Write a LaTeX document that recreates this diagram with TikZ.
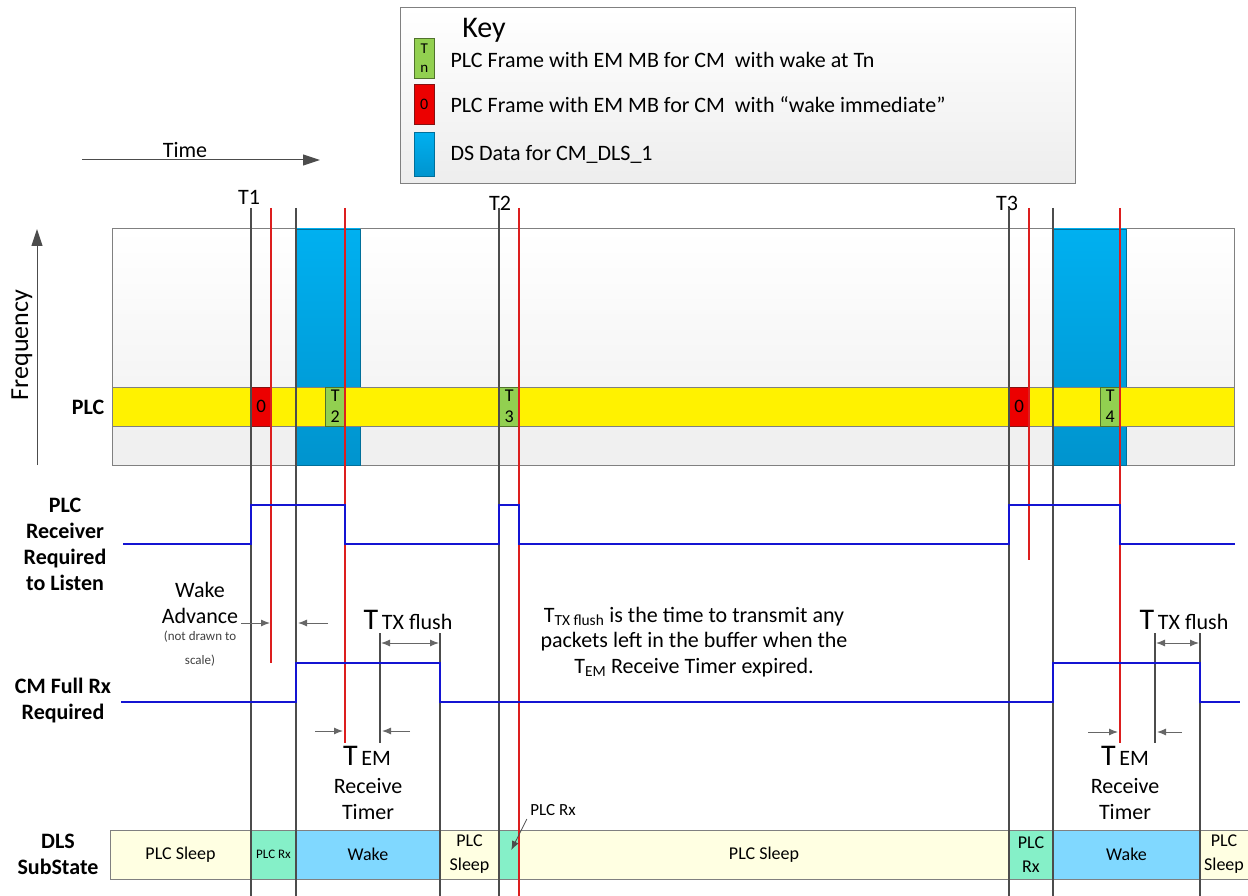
\documentclass[tikz,border=0pt]{standalone}
\usepackage{fontspec}
\setmainfont{Carlito}
\usetikzlibrary{arrows.meta,positioning,calc}
\definecolor{tdbox}{RGB}{128,128,128}
\definecolor{tdred}{RGB}{220,30,30}
\definecolor{tdframe}{RGB}{236,0,0}
\definecolor{tdsig}{RGB}{20,20,210}
\definecolor{tdgreen}{RGB}{146,208,80}
\definecolor{tdcyan}{RGB}{0,176,240}
\definecolor{tdcyandk}{RGB}{0,148,206}
\definecolor{tdsleep}{RGB}{255,255,226}
\definecolor{tdrx}{RGB}{133,240,200}
\definecolor{tdwake}{RGB}{128,216,255}
\tikzset{
  keybox/.style={draw=tdbox, top color=white, bottom color=black!7, line width=1pt},
  keytext/.style={font=\fontsize{22}{26}\selectfont, inner sep=0pt, anchor=west},
  frameimm/.style={draw=tdred!60!black, fill=tdframe, inner sep=0pt, anchor=north west,
                   minimum width=20pt, minimum height=39pt, font=\fontsize{19}{19}\selectfont},
  framewake/.style={draw=tdgreen!55!black, fill=tdgreen, inner sep=0pt, anchor=north west,
                    minimum width=20pt, minimum height=39pt, align=center, font=\fontsize{18}{21}\selectfont},
  dsdata/.style={draw=tdcyandk!75!black, top color=tdcyan, bottom color=tdcyandk},
  marker/.style={draw=black!70, line width=1.5pt},
  expiry/.style={draw=tdred, line width=1.3pt},
  signal/.style={draw=tdsig, line width=2.2pt},
  dimarrow/.style={draw=black!60, line width=1pt, -{Latex[length=9pt,width=7pt]}},
  axisarrow/.style={draw=black!70, line width=1pt, -{Triangle[length=17pt,width=11pt]}},
  rowlabel/.style={font=\fontsize{22}{26}\selectfont\bfseries, align=center},
  note/.style={font=\fontsize{22}{25.5}\selectfont, align=center},
  statebox/.style={draw=tdbox, line width=1pt},
  statetext/.style={font=\fontsize{18}{24}\selectfont, align=center, inner sep=0pt},
  tmark/.style={font=\fontsize{22}{22}\selectfont},
}
% one box of the DLS substate bar: x1, x2, fill, name, text
\newcommand{\substate}[5]{%
  \filldraw[statebox, fill=#3] (#1,830) rectangle (#2,879);
  \node[statetext] (#4) at ({(#1+#2)/2},854.5) {#5};}
\newcommand{\bigT}{{\fontsize{30}{30}\selectfont T}}

\begin{document}
\begin{tikzpicture}[x=1pt, y=-1pt]
\useasboundingbox (0,0) rectangle (1248,896);

% Key
\shade[keybox] (400,8) rectangle (1075,184);
\draw[draw=tdbox, line width=1pt] (400,8) rectangle (1075,184);
\node[font=\fontsize{30}{30}\selectfont] (keytitle) at (484,30) {Key};
\node[framewake, minimum height=40pt, font=\fontsize{15}{19}\selectfont] (keywake) at (414,38) {T\\n};
\node[frameimm, minimum height=40pt, font=\fontsize{16}{16}\selectfont] (keyimm) at (414,84) {0};
\node[dsdata, anchor=north west, minimum width=20pt, minimum height=44pt, inner sep=0pt] (keyds) at (414,132) {};
\node[keytext, right=16pt of keywake, yshift=-2pt] (keywaketxt) {PLC Frame with EM MB for CM\ \ with wake at Tn};
\node[keytext, right=16pt of keyimm] (keyimmtxt) {PLC Frame with EM MB for CM\ \ with “wake immediate”};
\node[keytext, right=16pt of keyds] (keydstxt) {DS Data for CM\_DLS\_1};

% Axes
\draw[axisarrow] (82,160) -- (320,160);
\node[font=\fontsize{22}{22}\selectfont] (time) at (185,150) {Time};
\draw[axisarrow] (37,465) -- (37,229);
\node[font=\fontsize{26}{26}\selectfont, rotate=90] (freq) at (22,345) {Frequency};

% Spectrum
\shade[top color=white, bottom color=black!5] (112,229) rectangle (1234,426);
\fill[black!6] (112,426) rectangle (1234,465);
\draw[draw=tdbox, line width=1pt] (112,229) rectangle (1234,465);
\shade[dsdata] (296,229) rectangle (360,465);
\shade[dsdata] (1053,229) rectangle (1126,465);
\draw[draw=tdcyandk!75!black] (296,229) rectangle (360,465);
\draw[draw=tdcyandk!75!black] (1053,229) rectangle (1126,465);
\filldraw[fill=yellow, draw=tdbox, line width=1pt] (112,387) rectangle (1234,426);
\node[rowlabel] (plc) at (88,407) {PLC};
\node[frameimm] (imm1) at (251,387) {0};
\node[framewake] (wake2) at (325,387) {T\\2};
\node[framewake] (wake3) at (499,387) {T\\3};
\node[frameimm] (imm2) at (1009,387) {0};
\node[framewake] (wake4) at (1100,387) {T\\4};

% DLS substate bar
\substate{110}{251}{tdsleep}{s1}{PLC Sleep}
\substate{251}{296}{tdrx}{s2}{\fontsize{13}{15}\selectfont PLC Rx}
\substate{296}{440}{tdwake}{s3}{Wake}
\substate{440}{499}{tdsleep}{s4}{PLC\\Sleep}
\substate{499}{519}{tdrx}{s5}{}
\substate{519}{1009}{tdsleep}{s6}{PLC Sleep}
\substate{1009}{1053}{tdrx}{s7}{PLC\\Rx}
\substate{1053}{1200}{tdwake}{s8}{Wake}
\substate{1200}{1248}{tdsleep}{s9}{PLC\\Sleep}

% Time markers
\node[tmark] (t1) at (249,197) {T1};
\node[tmark] (t2) at (500,203) {T2};
\node[tmark] (t3) at (1007,203) {T3};
\foreach \x/\ya/\yb in {251/208/896, 296/208/896, 499/208/896, 1009/208/896, 1053/208/896,
                        440/633/896, 1200/633/896, 380/633/743, 1155/633/743}
  \draw[marker] (\x,\ya) -- (\x,\yb);
\foreach \x/\yb in {271/663, 345/743, 519/896, 1029/560, 1120/743}
  \draw[expiry] (\x,208) -- (\x,\yb);

% Signals
\node[rowlabel] (plcrx) at (65,544) {PLC\\Receiver\\Required\\to Listen};
\draw[signal] (123,544) -| (251,505) -| (345,544) -| (499,505) -| (519,544)
  -| (1009,505) -| (1120,544) -- (1235,544);
\node[rowlabel] (cmrx) at (63,701) {CM Full Rx\\Required};
\draw[signal] (121,702) -| (296,663) -| (440,702) -| (1053,663) -| (1200,702) -- (1240,702);
\node[rowlabel] (dls) at (58,854) {DLS\\SubState};

% Wake advance
\node[note] (wakeadv) at (200,603) {Wake\\Advance};
\node[font=\fontsize{13}{24}\selectfont, align=center, text=black!75] (notscale) at (200,649) {(not drawn to\\scale)};
\draw[dimarrow] (241,623) -- (270,623);
\draw[dimarrow] (328,623) -- (298,623);

% Flush and receive timer, first wake
\node[anchor=base, font=\fontsize{22}{22}\selectfont] (flush1) at (408,629) {\bigT\,TX flush};
\draw[dimarrow, {Latex[length=9pt,width=7pt]}-{Latex[length=9pt,width=7pt]}] (381,643) -- (439,643);
\draw[dimarrow] (315,731) -- (343,731);
\draw[dimarrow] (410,731) -- (382,731);
\node[anchor=base, font=\fontsize{22}{22}\selectfont] (tem1) at (367,765) {\bigT\,EM};
\node[note] (timer1) at (368,799) {Receive\\Timer};

% Flush and receive timer, second wake
\node[anchor=base, font=\fontsize{22}{22}\selectfont] (flush2) at (1184,629) {\bigT\,TX flush};
\draw[dimarrow, {Latex[length=9pt,width=7pt]}-{Latex[length=9pt,width=7pt]}] (1156,643) -- (1199,643);
\draw[dimarrow] (1088,732) -- (1118,732);
\draw[dimarrow] (1182,732) -- (1157,732);
\node[anchor=base, font=\fontsize{22}{22}\selectfont] (tem2) at (1125,765) {\bigT\,EM};
\node[note] (timer2) at (1125,799) {Receive\\Timer};

% Note
\node[note] (flushnote) at (694,642) {T\textsubscript{TX flush} is the time to transmit any\\packets left in the buffer when the\\T\textsubscript{EM} Receive Timer expired.};

% PLC Rx pointer
\node[font=\fontsize{17}{17}\selectfont] (rxnote) at (553,810) {PLC Rx};
\draw[draw=black!70, line width=0.8pt, -{Latex[length=9pt,width=7pt]}, shorten >=5pt] (rxnote.south west) -- (s5.center);
\end{tikzpicture}
\end{document}
